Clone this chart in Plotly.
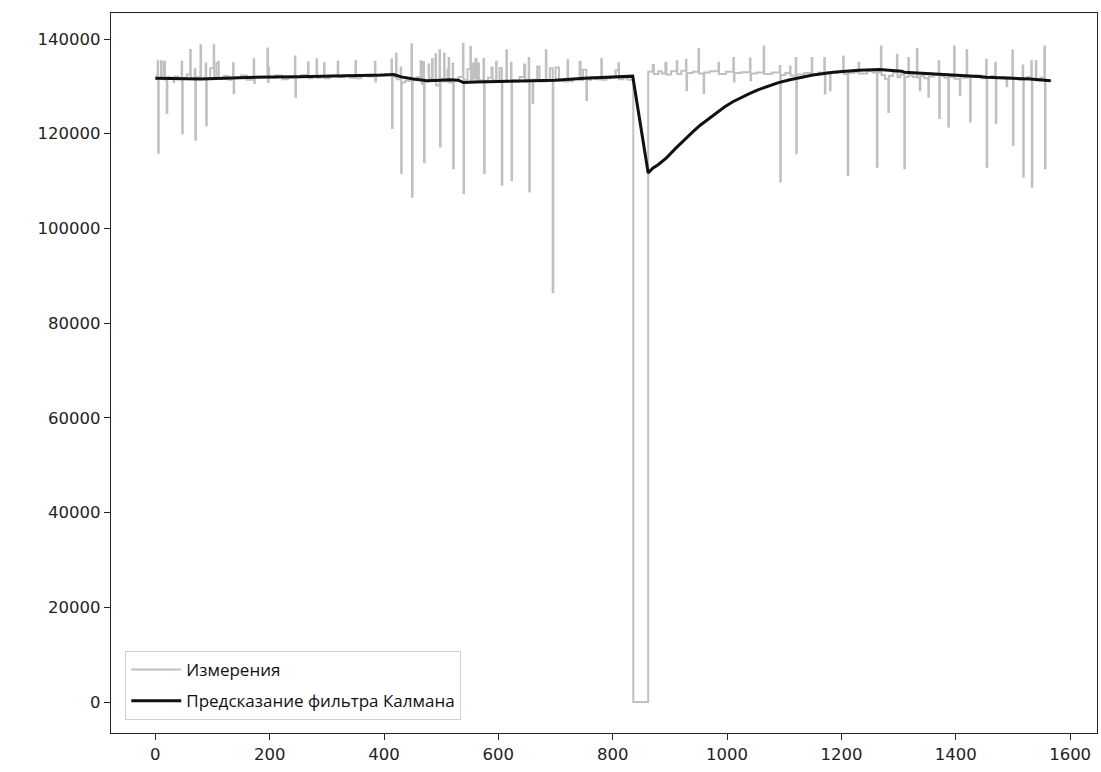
import plotly.graph_objects as go

meas_x = [
    0, 3, 4, 5, 6, 10, 11, 15, 17, 20,
    21, 26, 32, 33, 40, 46, 47, 48, 55, 61,
    62, 69, 70, 71, 79, 80, 88, 89, 90, 96,
    102, 103, 107, 110, 111, 120, 128, 136, 137, 138,
    150, 160, 172, 173, 174, 185, 196, 197, 198, 199,
    210, 222, 232, 244, 245, 246, 256, 267, 268, 275,
    282, 283, 290, 295, 296, 305, 319, 320, 330, 340,
    350, 351, 360, 372, 384, 385, 386, 395, 405, 413,
    414, 415, 421, 422, 429, 430, 431, 437, 448, 449,
    450, 458, 464, 466, 469, 470, 471, 478, 479, 484,
    485, 490, 491, 497, 498, 499, 505, 506, 511, 513,
    514, 520, 521, 522, 530, 538, 539, 540, 546, 551,
    552, 555, 557, 560, 562, 565, 566, 574, 575, 576,
    582, 588, 590, 596, 597, 602, 606, 607, 614, 615,
    622, 623, 624, 630, 637, 645, 647, 653, 654, 655,
    660, 661, 668, 672, 683, 684, 690, 695, 696, 700,
    706, 714, 721, 722, 730, 742, 744, 748, 754, 755,
    762, 770, 780, 781, 789, 796, 805, 810, 811, 818,
    826, 835, 836, 861, 862, 870, 872, 880, 886, 892,
    894, 902, 912, 913, 920, 928, 929, 930, 940, 950,
    951, 959, 960, 970, 985, 986, 998, 1011, 1012, 1013,
    1025, 1040, 1041, 1042, 1052, 1064, 1065, 1078, 1092, 1093,
    1094, 1102, 1110, 1111, 1120, 1121, 1122, 1135, 1148, 1149,
    1160, 1170, 1171, 1172, 1180, 1181, 1192, 1203, 1204, 1211,
    1212, 1222, 1230, 1231, 1245, 1255, 1262, 1263, 1269, 1270,
    1276, 1282, 1283, 1290, 1297, 1298, 1303, 1310, 1311, 1317,
    1318, 1325, 1332, 1333, 1337, 1338, 1345, 1352, 1353, 1362,
    1370, 1371, 1372, 1380, 1387, 1388, 1397, 1398, 1407, 1408,
    1413, 1419, 1420, 1425, 1426, 1435, 1445, 1453, 1454, 1455,
    1462, 1469, 1470, 1471, 1480, 1489, 1490, 1499, 1500, 1501,
    1510, 1517, 1518, 1519, 1525, 1532, 1533, 1534, 1540, 1541,
    1548, 1555, 1556, 1557, 1566,
]

meas_y = [
    131500, 132200, 135300, 116000, 131600, 135300, 131900, 135200, 131400, 124400,
    132000, 131700, 130900, 132100, 131500, 135200, 120100, 131800, 132500, 137700,
    131600, 133600, 118700, 131900, 138700, 131700, 134800, 121800, 131700, 133800,
    138700, 132000, 134900, 135200, 131600, 132200, 131400, 134900, 128600, 131800,
    132300, 131400, 135700, 130700, 132000, 131900, 138000, 130900, 134000, 131800,
    132300, 131500, 131800, 136300, 127800, 131900, 132400, 135100, 131700, 132000,
    135700, 131800, 132200, 134900, 131700, 132300, 135200, 131900, 132400, 131800,
    135300, 131700, 132300, 132100, 135200, 131000, 132300, 132600, 132400, 135700,
    121200, 132000, 136900, 131500, 134000, 111700, 130800, 131200, 138900, 106700,
    131300, 132000, 135300, 130500, 135100, 114000, 131000, 134600, 131700, 135800,
    131300, 136800, 130200, 137600, 117300, 131600, 136900, 131000, 133500, 136000,
    130800, 134800, 112700, 131200, 132000, 139000, 107500, 131400, 133600, 138300,
    131100, 134800, 131700, 135800, 130900, 134800, 131300, 135800, 111700, 131200,
    131800, 134000, 131300, 135200, 130900, 133900, 109200, 131200, 137600, 131000,
    135000, 110200, 131300, 131000, 132000, 134600, 131000, 136000, 107800, 131200,
    126500, 131400, 134200, 131000, 137600, 131200, 133800, 86500, 131300, 134000,
    131200, 131000, 135500, 131100, 131500, 135200, 131300, 133500, 127100, 131400,
    132000, 131500, 135800, 131400, 131700, 131900, 133400, 134900, 131500, 131700,
    131400, 131600, 0, 0, 133100, 134500, 132600, 133200, 132700, 135000,
    132500, 133200, 135300, 132600, 133300, 135600, 129200, 132800, 133100, 137900,
    132700, 128600, 132900, 133200, 135000, 132600, 133100, 136000, 131000, 132800,
    133000, 135900, 131300, 132700, 132900, 138400, 132600, 132900, 134300, 109900,
    132400, 132800, 134200, 132300, 136000, 115900, 132500, 132800, 136000, 132400,
    132900, 136000, 128500, 133000, 129200, 132800, 133100, 136300, 132600, 111300,
    132800, 133000, 135000, 132700, 133200, 132900, 113000, 133000, 138400, 132400,
    131600, 124600, 132200, 133000, 136700, 131900, 132500, 112700, 132000, 136000,
    132300, 132000, 137900, 131800, 129200, 132200, 131700, 127800, 132100, 132400,
    135300, 123300, 132200, 131800, 121500, 132000, 138400, 131600, 128200, 132100,
    131800, 137600, 131900, 122600, 132000, 132300, 131700, 135600, 113000, 131900,
    132200, 135000, 122200, 131800, 132000, 130000, 131900, 137600, 117600, 131700,
    131400, 134400, 110900, 131600, 132000, 135300, 108800, 131500, 135300, 131300,
    131800, 138400, 112700, 131200, 131300,
]

kalman_x = [
    0, 40, 80, 120, 160, 200, 250, 300, 350, 400,
    417, 430, 449, 475, 500, 515, 530, 539, 560, 600,
    650, 700, 750, 800, 835, 862, 870, 880, 894, 910,
    924, 940, 953, 968, 982, 996, 1011, 1025, 1040, 1055,
    1069, 1090, 1110, 1128, 1150, 1186, 1230, 1267, 1290, 1305,
    1310, 1340, 1370, 1390, 1420, 1440, 1454, 1480, 1506, 1530,
    1550, 1566,
]

kalman_y = [
    131700, 131600, 131550, 131700, 131900, 132000, 132050, 132150, 132200, 132400,
    132500, 132000, 131600, 131200, 131300, 131400, 131300, 130800, 130900, 131000,
    131100, 131300, 131700, 131950, 132150, 111700, 112700, 113500, 114900, 116900,
    118600, 120400, 121800, 123200, 124500, 125700, 126800, 127700, 128500, 129300,
    129900, 130800, 131400, 131900, 132400, 133000, 133400, 133570, 133400, 133200,
    133000, 132800, 132600, 132450, 132300, 132100, 131900, 131800, 131700, 131550,
    131350, 131200,
]

x_ticks = [0, 200, 400, 600, 800, 1000, 1200, 1400, 1600]
y_ticks = [0, 20000, 40000, 60000, 80000, 100000, 120000, 140000]

legend_labels = ["Измерения", "Предсказание фильтра Калмана"]

fig = go.Figure()
fig.add_trace(go.Scatter(
    x=meas_x, y=meas_y, mode="lines", name=legend_labels[0],
    line=dict(color="#c0c0c0", width=2, shape="hv"),
    legendgroup="a",
))
fig.add_trace(go.Scatter(
    x=kalman_x, y=kalman_y, mode="lines", name=legend_labels[1],
    line=dict(color="#111111", width=3),
    legendgroup="b",
))

axis_common = dict(
    showgrid=False, zeroline=False, showline=True, mirror=True,
    linecolor="#222222", linewidth=1.3, ticks="outside", ticklen=6,
    tickcolor="#222222", tickwidth=1.3,
    tickfont=dict(family="DejaVu Sans", size=16.5, color="#222222"),
)

fig.update_layout(
    width=1101, height=772,
    margin=dict(l=111, r=4, t=13, b=39),
    paper_bgcolor="white", plot_bgcolor="white",
    xaxis=dict(range=[-77.5, 1647], tickvals=x_ticks,
               ticktext=[str(v) for v in x_ticks], **axis_common),
    yaxis=dict(range=[-6546, 145490], tickvals=y_ticks,
               ticktext=[str(v) for v in y_ticks], **axis_common),
    legend=dict(
        x=0.0145, y=0.018, xanchor="left", yanchor="bottom",
        bgcolor="white", bordercolor="#d0d0d0", borderwidth=1,
        font=dict(family="Open Sans", size=17, color="#111111"),
        traceorder="grouped", tracegroupgap=6, itemwidth=50,
    ),
    showlegend=True,
)

fig.write_html("out.html")
